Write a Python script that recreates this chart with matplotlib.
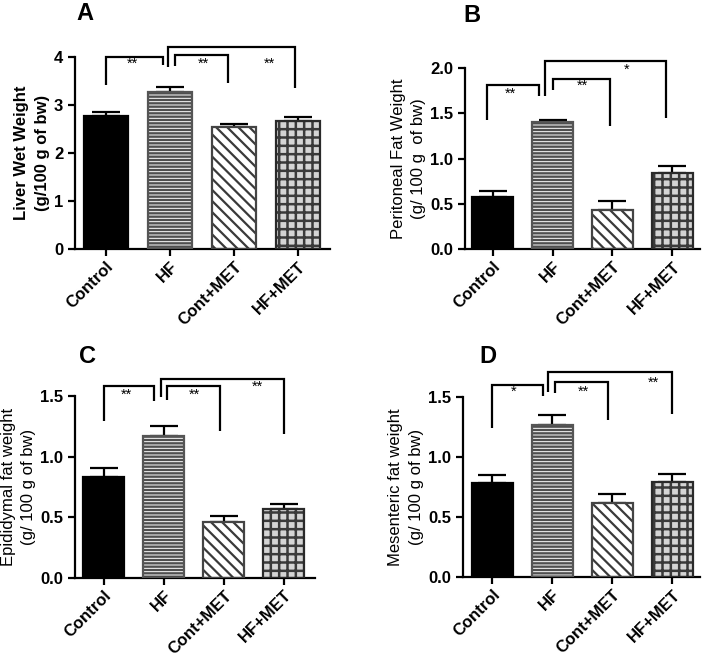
import numpy as np
import matplotlib
matplotlib.use('Agg')
import matplotlib.pyplot as plt
from matplotlib.ticker import FormatStrFormatter

plt.rcParams['font.family'] = ['Liberation Sans', 'DejaVu Sans']
plt.rcParams['hatch.linewidth'] = 1.6

# data
groups = ['Control', 'HF', 'Cont+MET', 'HF+MET']

liver = [2.77, 3.28, 2.55, 2.66]
liver_err = [0.08, 0.09, 0.05, 0.08]
peritoneal = [0.575, 1.40, 0.43, 0.84]
peritoneal_err = [0.065, 0.03, 0.10, 0.08]
epididymal = [0.835, 1.17, 0.465, 0.57]
epididymal_err = [0.075, 0.08, 0.045, 0.04]
mesenteric = [0.78, 1.27, 0.62, 0.79]
mesenteric_err = [0.07, 0.08, 0.07, 0.07]

# significance brackets: (x1, x2, top, left leg end, right leg end, label, label x, label y)
brackets_a = [(0.0, 0.9, 4.0, 3.41, 3.83, '**', 0.42, 3.86),
              (1.08, 1.91, 4.05, 3.81, 3.45, '**', 1.52, 3.86),
              (0.97, 2.95, 4.21, 3.79, 3.36, '**', 2.56, 3.86)]
brackets_b = [(-0.1, 0.78, 1.816, 1.43, 1.69, '**', 0.29, 1.72),
              (1.0, 1.96, 1.88, 1.76, 1.36, '**', 1.5, 1.80),
              (0.875, 2.9, 2.08, 1.69, 1.45, '*', 2.24, 1.98)]
brackets_c = [(0.0, 0.84, 1.58, 1.295, 1.46, '**', 0.37, 1.51),
              (1.06, 1.93, 1.58, 1.47, 1.21, '**', 1.51, 1.51),
              (0.95, 3.0, 1.64, 1.49, 1.19, '**', 2.56, 1.58)]
brackets_d = [(0.0, 0.84, 1.60, 1.24, 1.51, '*', 0.35, 1.54),
              (1.04, 1.93, 1.625, 1.53, 1.31, '**', 1.51, 1.54),
              (0.93, 2.99, 1.71, 1.54, 1.36, '**', 2.69, 1.62)]

# bar styles: (face, hatch colour, hatch, hatch lw, edge)
styles = [('black', 'black', None, 1.0, 'black'),
          ('#4f4f4f', 'white', '-----', 0.7, '#555555'),
          ('white', '#3a3a3a', '\\\\\\', 1.6, '#444444'),
          ('#d4d4d4', '#3a3a3a', '++', 1.8, '#2a2a2a')]


def panel(ax, vals, errs, brackets, ymax, yticks, ylabel, label_bold, xlim):
    x = np.arange(len(groups))
    for i in range(len(groups)):
        face, hcol, hatch, hlw, edge = styles[i]
        with plt.rc_context({'hatch.linewidth': hlw}):
            b = ax.bar(x[i], vals[i], width=0.68, color=face, edgecolor=hcol,
                       hatch=hatch, linewidth=0, zorder=2)
            for p in b:
                if hasattr(p, 'set_hatch_linewidth'):
                    p.set_hatch_linewidth(hlw)
        ax.bar(x[i], vals[i], width=0.68, fill=False, edgecolor=edge,
               linewidth=1.6, zorder=3)
    ax.errorbar(x, vals, yerr=[np.zeros(len(vals)), errs], fmt='none',
                ecolor='black', elinewidth=1.6, capsize=10, capthick=1.6, zorder=1)
    for x1, x2, top, l1, l2, txt, tx, ty in brackets:
        ax.plot([x1, x1, x2, x2], [l1, top, top, l2], color='black', lw=1.6,
                clip_on=False, solid_capstyle='butt', solid_joinstyle='miter')
        ax.text(tx, ty, txt, ha='center', va='center', fontsize=10.5)
    ax.set_xlim(*xlim)
    ax.set_ylim(0, ymax)
    ax.set_yticks(yticks)
    ax.set_xticks(x)
    ax.set_xticklabels(groups, rotation=45, ha='right', rotation_mode='anchor',
                       fontsize=12, fontweight='bold')
    for t in ax.get_yticklabels():
        t.set_fontsize(12)
        t.set_fontweight('bold')
    ax.set_ylabel(ylabel, fontsize=12, fontweight='bold' if label_bold else 'normal',
                  labelpad=3, linespacing=1.45)
    for s in ['top', 'right']:
        ax.spines[s].set_visible(False)
    for s in ['left', 'bottom']:
        ax.spines[s].set_linewidth(1.6)
    ax.tick_params(axis='both', direction='out', width=1.6, length=5)
    ax.tick_params(axis='x', pad=2)


fig = plt.figure(figsize=(7.05, 6.56), dpi=100)

ax_a = fig.add_axes([0.1064, 0.6204, 0.3617, 0.2927])
panel(ax_a, liver, liver_err, brackets_a, 4, [0, 1, 2, 3, 4],
      'Liver Wet Weight\n(g/100 g of bw)', True, (-0.48, 3.5))

ax_b = fig.add_axes([0.6596, 0.6204, 0.3333, 0.2759])
panel(ax_b, peritoneal, peritoneal_err, brackets_b, 2.0, [0.0, 0.5, 1.0, 1.5, 2.0],
      'Peritoneal Fat Weight\n(g/ 100 g  of bw)', False, (-0.46, 3.46))
ax_b.yaxis.set_major_formatter(FormatStrFormatter('%.1f'))

ax_c = fig.add_axes([0.1064, 0.1189, 0.3404, 0.2774])
panel(ax_c, epididymal, epididymal_err, brackets_c, 1.5, [0.0, 0.5, 1.0, 1.5],
      'Epididymal fat weight\n(g/ 100 g of bw)', False, (-0.48, 3.52))
ax_c.yaxis.set_major_formatter(FormatStrFormatter('%.1f'))

ax_d = fig.add_axes([0.6567, 0.1204, 0.3362, 0.2744])
panel(ax_d, mesenteric, mesenteric_err, brackets_d, 1.5, [0.0, 0.5, 1.0, 1.5],
      'Mesenteric fat weight\n(g/ 100 g of bw)', False, (-0.49, 3.46))
ax_d.yaxis.set_major_formatter(FormatStrFormatter('%.1f'))

for lab, px, py in [('A', 85, 20), ('B', 472, 22), ('C', 88, 363), ('D', 488, 363)]:
    fig.text(px / 705, 1 - py / 656, lab, ha='center', va='baseline',
             fontsize=17, fontweight='bold')

fig.savefig('out.png', dpi=100)
